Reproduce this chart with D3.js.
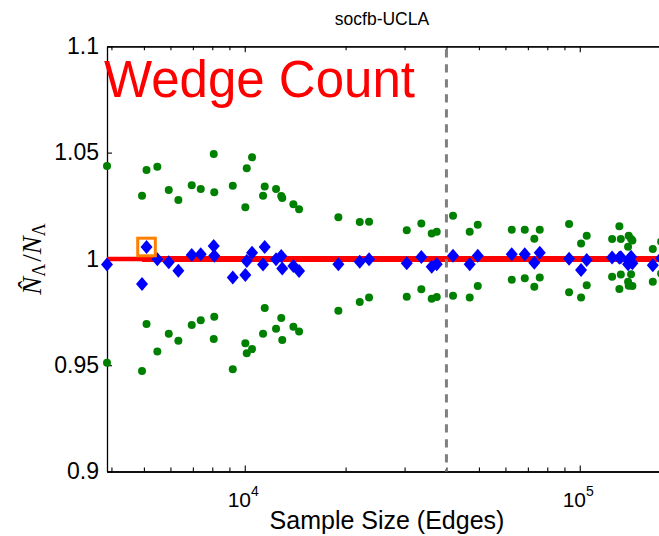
<!DOCTYPE html>
<html>
<head>
<meta charset="utf-8">
<script src="https://cdn.jsdelivr.net/npm/d3@7"></script>
<style>
  html, body { margin: 0; padding: 0; background: #fff; }
  svg { display: block; font-family: "Liberation Sans", Arial, Helvetica, sans-serif; }
</style>
</head>
<body>
<svg id="chart" width="659" height="536"></svg>
<script>
// Sample sizes (number of sampled edges)
const sampleSizes = [
  3880, 4936, 5091, 5484, 5932, 6336, 6946, 7390, 8080, 8110,
  9210, 10041, 10139, 10515, 11340, 11472, 12400, 12850, 12940, 13970,
  14527, 19030, 22040, 23500, 30450, 33660, 36150, 37420, 41850, 46940,
  49610, 62660, 68530, 73170, 75960, 92920, 100900, 104900, 124900, 131300,
  132600, 139400, 140000, 142300, 143600, 165200, 174900
];
// Estimated wedge-count ratio for each sample
const estimates = [
  0.9974, 0.9882, 1.0056, 0.9998, 0.9984, 0.9944, 1.0018, 1.0022, 1.0061, 1.0015,
  0.9913, 0.9924, 0.9990, 1.0029, 0.9974, 1.0056, 0.9998, 1.0014, 0.9955, 0.9967,
  0.9943, 0.9975, 0.9987, 0.9998, 0.9979, 1.0009, 0.9963, 0.9975, 1.0015, 0.9975,
  1.0015, 1.0022, 1.0022, 0.9982, 1.0029, 1.0001, 0.9948, 0.9995, 1.0007, 1.0005,
  1.0008, 0.9975, 0.9992, 1.0010, 0.9979, 0.9970, 1.0003
];
// Upper confidence bound
const upperBounds = [
  1.0437, 1.0297, 1.0418, 1.0434, 1.0324, 1.0277, 1.0346, 1.0329, 1.0493, 1.0313,
  1.0344, 1.0243, 1.0426, 1.0478, 1.0297, 1.0340, 1.0329, 1.0296, 1.0286, 1.0257,
  1.0233, 1.0196, 1.0174, 1.0175, 1.0135, 1.0166, 1.0120, 1.0128, 1.0203, 1.0128,
  1.0161, 1.0137, 1.0137, 1.0095, 1.0137, 1.0164, 1.0072, 1.0109, 1.0094, 1.0154,
  1.0094, 1.0057, 1.0109, 1.0094, 1.0086, 1.0047, 1.0081
];
// Lower confidence bound
const lowerBounds = [
  0.9512, 0.9473, 0.9694, 0.9564, 0.9648, 0.9615, 0.9689, 0.9711, 0.9623, 0.9728,
  0.9481, 0.9603, 0.9556, 0.9576, 0.9648, 0.9769, 0.9672, 0.9722, 0.9619, 0.9681,
  0.9658, 0.9756, 0.9797, 0.9819, 0.9822, 0.9857, 0.9813, 0.9821, 0.9827, 0.9819,
  0.9873, 0.9902, 0.9909, 0.9869, 0.9913, 0.9843, 0.9818, 0.9876, 0.9916, 0.9858,
  0.9927, 0.9893, 0.9874, 0.9928, 0.9873, 0.9893, 0.9931
];

const xDomain = [3880, 176000];
const yDomain = [0.9, 1.1];
const yTicks = [0.9, 0.95, 1, 1.05, 1.1];
const yTickLabels = ["0.9", "0.95", "1", "1.05", "1.1"];
const xMajorTicks = [1e4, 1e5];
const xMajorLabels = [["10", "4"], ["10", "5"]];
const xMinorTicks = [4000, 5000, 6000, 7000, 8000, 9000,
                     20000, 30000, 40000, 50000, 60000, 70000, 80000, 90000];
const trueValue = 1;
const markedSample = 5091;   // sample highlighted with a square
const thresholdSize = 40000; // dashed reference sample size
const titleText = "socfb-UCLA";
const annotation = "Wedge Count";
const xLabel = "Sample Size (Edges)";

const svg = d3.select("#chart");
const plotLeft = 107, plotRight = 662, plotTop = 46.3, plotBottom = 471.5;

const x = d3.scaleLog().domain(xDomain).range([plotLeft, plotRight]);
const y = d3.scaleLinear().domain(yDomain).range([plotBottom, plotTop]);

const sansFont = '"Liberation Sans", Arial, Helvetica, sans-serif';
const serifFont = '"Liberation Serif", "DejaVu Serif", serif';

// ---- axes ----
function styleAxis(g) {
  g.select(".domain").attr("stroke", "#000").attr("stroke-width", 1.3);
  g.selectAll(".tick line").attr("stroke", "#000").attr("stroke-width", 1.1);
}

// left axis
const gy = svg.append("g").attr("transform", `translate(${plotLeft},0)`)
  .call(d3.axisLeft(y).tickValues(yTicks)
        .tickFormat((d, i) => yTickLabels[i])
        .tickSize(-5).tickSizeOuter(0).tickPadding(8));
styleAxis(gy);
gy.selectAll(".tick text").attr("fill", "#000")
  .style("font-size", "23px").style("font-family", sansFont);

// bottom axis: minor ticks
const gxMinor = svg.append("g").attr("transform", `translate(0,${plotBottom})`)
  .call(d3.axisBottom(x).tickValues(xMinorTicks).tickFormat("")
        .tickSize(-4).tickSizeOuter(0));
styleAxis(gxMinor);
// bottom axis: major ticks with labels
const gxMajor = svg.append("g").attr("transform", `translate(0,${plotBottom})`)
  .call(d3.axisBottom(x).tickValues(xMajorTicks).tickFormat("")
        .tickSize(-6).tickSizeOuter(0));
styleAxis(gxMajor);
gxMajor.selectAll(".tick").each(function(d, i) {
  const t = d3.select(this).append("text")
    .attr("x", -2).attr("y", 35)
    .attr("text-anchor", "middle")
    .attr("fill", "#000")
    .style("font-family", sansFont)
    .style("font-size", "21px");
  t.append("tspan").text(xMajorLabels[i][0]);
  t.append("tspan").attr("dy", -11).style("font-size", "14px").text(xMajorLabels[i][1]);
});

// top axis (mirrored ticks, no labels)
const gtMinor = svg.append("g").attr("transform", `translate(0,${plotTop})`)
  .call(d3.axisTop(x).tickValues(xMinorTicks).tickFormat("")
        .tickSize(-4).tickSizeOuter(0));
styleAxis(gtMinor);
const gtMajor = svg.append("g").attr("transform", `translate(0,${plotTop})`)
  .call(d3.axisTop(x).tickValues(xMajorTicks).tickFormat("")
        .tickSize(-6).tickSizeOuter(0));
styleAxis(gtMajor);

// ---- reference lines ----
svg.append("line")
  .attr("x1", x(xDomain[0])).attr("x2", x(xDomain[1]))
  .attr("y1", y(trueValue)).attr("y2", y(trueValue))
  .attr("stroke", "#ff0000").attr("stroke-width", 4.5);
svg.append("line")
  .attr("x1", x(sampleSizes[1])).attr("x2", x(xDomain[1]))
  .attr("y1", y(trueValue)).attr("y2", y(trueValue))
  .attr("stroke", "#ff0000").attr("stroke-width", 6);

svg.append("line")
  .attr("x1", x(thresholdSize)).attr("x2", x(thresholdSize))
  .attr("y1", y(yDomain[1]) + 3).attr("y2", y(yDomain[0]))
  .attr("stroke", "#808080").attr("stroke-width", 3)
  .attr("stroke-dasharray", "8.3,6.7");

// ---- markers ----
const pts = sampleSizes.map((s, i) => ({
  s, est: estimates[i], hi: upperBounds[i], lo: lowerBounds[i]
}));

const gBounds = svg.append("g").attr("fill", "#008000");
gBounds.selectAll("circle.hi").data(pts).join("circle")
  .attr("class", "hi")
  .attr("cx", d => x(d.s)).attr("cy", d => y(d.hi)).attr("r", 4);
gBounds.selectAll("circle.lo").data(pts).join("circle")
  .attr("class", "lo")
  .attr("cx", d => x(d.s)).attr("cy", d => y(d.lo)).attr("r", 4);

const diamond = "M0,-7L6,0L0,7L-6,0Z";
svg.append("g").attr("fill", "#0000ff")
  .selectAll("path").data(pts).join("path")
  .attr("d", diamond)
  .attr("transform", d => `translate(${x(d.s)},${y(d.est)})`);

// highlighted sample
const mark = pts.find(d => d.s === markedSample);
svg.append("rect")
  .attr("x", x(mark.s) - 8.8).attr("y", y(mark.est) - 8.8)
  .attr("width", 17.6).attr("height", 17.6)
  .attr("fill", "none").attr("stroke", "#ff8000").attr("stroke-width", 3);

// ---- text ----
svg.append("text")
  .attr("x", 382).attr("y", 25)
  .attr("text-anchor", "middle")
  .attr("fill", "#000")
  .style("font-family", sansFont).style("font-size", "17.5px")
  .text(titleText);

svg.append("text")
  .attr("x", 104).attr("y", 97)
  .attr("fill", "#ff0000")
  .style("font-family", sansFont).style("font-size", "51px")
  .text(annotation);

svg.append("text")
  .attr("x", 387).attr("y", 529)
  .attr("text-anchor", "middle")
  .attr("fill", "#000")
  .style("font-family", sansFont).style("font-size", "25px")
  .text(xLabel);

// y label: N-hat_Lambda / N_Lambda
const yl = svg.append("text")
  .attr("transform", `translate(41,${(plotTop + plotBottom) / 2}) rotate(-90)`)
  .attr("text-anchor", "middle")
  .attr("fill", "#000")
  .style("font-family", serifFont).style("font-size", "27px");
yl.append("tspan").style("font-style", "italic").text("N\u0302");
yl.append("tspan").attr("dy", 4).style("font-size", "18px").text("\u039B");
yl.append("tspan").attr("dy", -4).attr("dx", 2).text("/");
yl.append("tspan").style("font-style", "italic").text("N");
yl.append("tspan").attr("dy", 4).style("font-size", "18px").text("\u039B");
</script>
</body>
</html>
